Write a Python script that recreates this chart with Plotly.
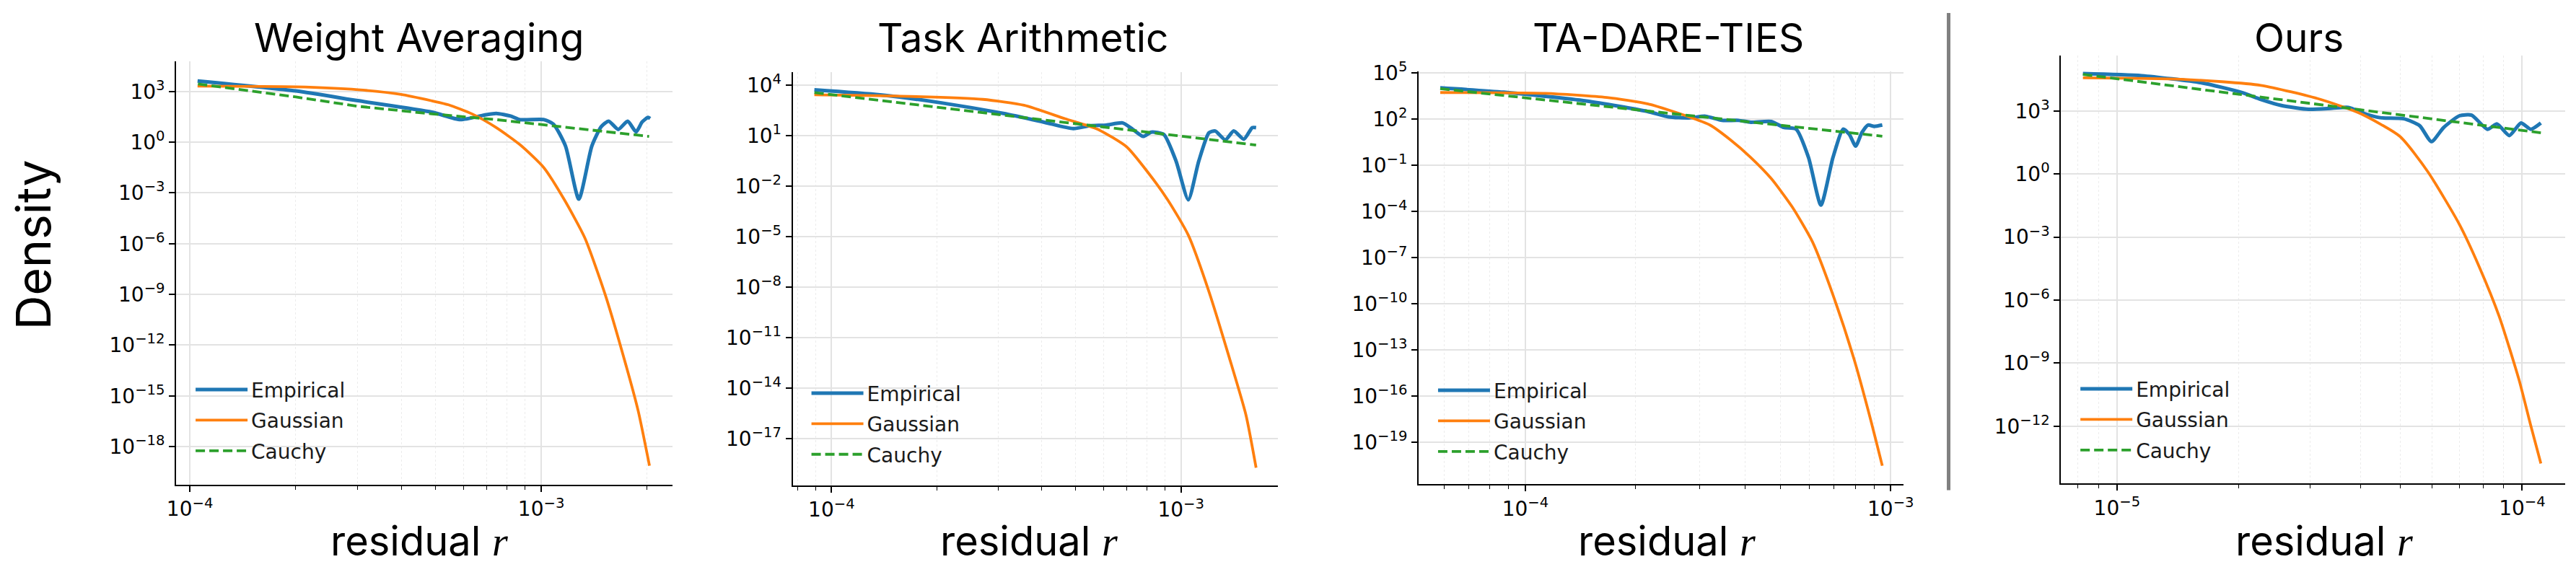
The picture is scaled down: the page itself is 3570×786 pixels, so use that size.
import numpy as np
import plotly.graph_objects as go

W, H = 3570, 786

# ---------------- data (log10 values) ----------------
titles = ["Weight Averaging", "Task Arithmetic", "TA-DARE-TIES", "Ours"]
series_names = ["Empirical", "Gaussian", "Cauchy"]

# Panel 1 : Weight Averaging
wa_emp_logr = [-3.978, -3.698, -3.522, -3.311, -3.230, -3.162, -3.128, -3.087, -3.060, -2.992, -2.965,
               -2.931, -2.893, -2.856, -2.829, -2.808, -2.781, -2.754, -2.730, -2.713, -2.696, -2.690]
wa_emp_logd = [3.62, 3.03, 2.45, 1.77, 1.33, 1.60, 1.70, 1.54, 1.33, 1.33, 1.06,
               -0.23, -3.37, -0.23, 0.92, 1.24, 0.75, 1.24, 0.61, 1.19, 1.46, 1.40]
wa_gau_logr = [-3.978, -3.698, -3.522, -3.399, -3.311, -3.264, -3.196, -3.128, -3.060, -2.993, -2.935,
               -2.876, -2.818, -2.759, -2.724, -2.692]
wa_gau_logd = [3.31, 3.27, 3.10, 2.82, 2.44, 2.21, 1.66, 0.86, -0.16, -1.50, -3.38,
               -5.66, -9.01, -13.18, -15.90, -19.13]
wa_cau_logr = [-3.977, -3.698, -3.522, -3.311, -3.128, -2.924, -2.693]
wa_cau_logd = [3.44, 2.67, 2.12, 1.67, 1.33, 0.88, 0.34]

# Panel 2 : Task Arithmetic
ta_emp_logr = [-4.049, -3.861, -3.685, -3.508, -3.391, -3.308, -3.261, -3.214, -3.167, -3.138, -3.108, -3.085,
               -3.049, -3.014, -2.979, -2.949, -2.920, -2.902, -2.873, -2.849, -2.820, -2.796, -2.785]
ta_emp_logd = [3.73, 3.43, 2.95, 2.32, 1.80, 1.42, 1.59, 1.63, 1.76, 1.38, 0.96, 1.21,
               1.07, -0.51, -2.81, -0.51, 1.17, 1.28, 0.75, 1.28, 0.79, 1.48, 1.48]
ta_gau_logr = [-4.049, -3.802, -3.567, -3.449, -3.332, -3.238, -3.155, -3.096, -3.038, -2.979, -2.920,
               -2.861, -2.814, -2.785]
ta_gau_logd = [3.43, 3.35, 3.16, 2.81, 2.01, 1.38, 0.33, -1.14, -2.81, -4.91, -8.26, -12.24, -15.60, -18.74]
ta_cau_logr = [-4.049, -3.449, -2.785]
ta_cau_logd = [3.56, 2.08, 0.44]

# Panel 3 : TA-DARE-TIES
td_emp_logr = [-4.233, -4.059, -3.833, -3.664, -3.608, -3.552, -3.507, -3.462, -3.417, -3.383, -3.327, -3.293,
               -3.259, -3.225, -3.191, -3.158, -3.130, -3.113, -3.096, -3.079, -3.062, -3.045, -3.023]
td_emp_logd = [4.02, 3.74, 3.17, 2.48, 2.14, 2.07, 2.18, 1.91, 1.91, 1.79, 1.84, 1.45,
               1.34, -0.50, -3.59, -0.50, 1.34, 0.99, 0.24, 1.11, 1.61, 1.52, 1.61]
td_gau_logr = [-4.233, -3.946, -3.777, -3.664, -3.552, -3.495, -3.439, -3.383, -3.327, -3.270, -3.214,
               -3.158, -3.101, -3.056, -3.023]
td_gau_logd = [3.72, 3.67, 3.40, 2.98, 2.14, 1.61, 0.65, -0.50, -1.87, -3.70, -5.99, -9.43, -13.55, -17.44, -20.53]
td_cau_logr = [-4.233, -3.023]
td_cau_logd = [3.97, 0.88]

# Panel 4 : Ours
ou_emp_logr = [-5.084, -4.939, -4.792, -4.694, -4.645, -4.596, -4.527, -4.469, -4.429, -4.390, -4.351, -4.292,
               -4.253, -4.224, -4.194, -4.155, -4.125, -4.086, -4.062, -4.032, -4.003, -3.979, -3.954]
ou_emp_logd = [4.78, 4.68, 4.34, 3.89, 3.55, 3.27, 3.08, 3.13, 3.17, 2.88, 2.68, 2.63,
               2.30, 1.54, 2.21, 2.77, 2.80, 2.13, 2.38, 1.83, 2.43, 2.13, 2.43]
ou_gau_logr = [-5.084, -4.841, -4.645, -4.498, -4.400, -4.302, -4.233, -4.155, -4.106, -4.057, -4.008,
               -3.979, -3.954]
ou_gau_logd = [4.58, 4.51, 4.22, 3.55, 2.88, 1.79, 0.11, -2.40, -4.42, -6.77, -9.79, -11.97, -13.78]
ou_cau_logr = [-5.084, -3.954]
ou_cau_logd = [4.74, 1.96]

# tick exponents
y_tick_exps = [[3, 0, -3, -6, -9, -12, -15, -18],
               [4, 1, -2, -5, -8, -11, -14, -17],
               [5, 2, -1, -4, -7, -10, -13, -16, -19],
               [3, 0, -3, -6, -9, -12]]
x_tick_exps = [[-4, -3], [-4, -3], [-4, -3], [-5, -4]]

panels = [
    (wa_emp_logr, wa_emp_logd, wa_gau_logr, wa_gau_logd, wa_cau_logr, wa_cau_logd),
    (ta_emp_logr, ta_emp_logd, ta_gau_logr, ta_gau_logd, ta_cau_logr, ta_cau_logd),
    (td_emp_logr, td_emp_logd, td_gau_logr, td_gau_logd, td_cau_logr, td_cau_logd),
    (ou_emp_logr, ou_emp_logd, ou_gau_logr, ou_gau_logd, ou_cau_logr, ou_cau_logd),
]

# ---------------- layout geometry (pixels) ----------------
plot_px = [  # x0, x1, y_top, y_bottom
    (233, 926, 69, 669),
    (1094, 1771, 84, 670),
    (1968, 2645.5, 82.5, 668.5),
    (2865, 3569, 60, 667.5),
]
x_ranges = [(-4.0387, -2.6265), (-4.1107, -2.7234), (-4.292, -2.964), (-5.138, -3.894)]
y_ranges = [(-20.24, 4.76), (-19.78, 4.775), (-21.73, 5.11), (-14.73, 5.65)]
title_cx = [572, 1415, 2317, 3197]
xlabel_cx = [572, 1424, 2315, 3232]
legend_px = [(255, 509), (1115, 514), (1990, 510), (2887, 508)]

C_BLUE, C_ORANGE, C_GREEN = "#1f77b4", "#ff7f0e", "#2ca02c"


def px_x(p):
    return p / W


def px_y(p):
    return 1 - p / H


def sup(e):
    s = str(e).replace("-", "\u2212")
    return f"10<sup>{s}</sup>"


fig = go.Figure()
layout = dict(
    width=W, height=H, margin=dict(l=0, r=0, t=0, b=0),
    paper_bgcolor="white", plot_bgcolor="white", showlegend=True,
    annotations=[], shapes=[],
)

for i, (er, ed, gr, gd, cr, cd) in enumerate(panels):
    k = "" if i == 0 else str(i + 1)
    xa, ya = "x" + k, "y" + k
    lg = "legend" + k
    specs = [
        (er, ed, "Empirical", dict(color=C_BLUE, width=5), "spline"),
        (gr, gd, "Gaussian", dict(color=C_ORANGE, width=3.8), "spline"),
        (cr, cd, "Cauchy", dict(color=C_GREEN, width=3.8, dash="13px,6px"), "linear"),
    ]
    for j, (r, d, name, line, shape) in enumerate(specs):
        fig.add_trace(go.Scatter(
            x=10 ** np.array(r), y=10 ** np.array(d), mode="lines", name=name,
            line=dict(shape=shape, smoothing=0.6, **line) if shape == "spline" else dict(shape=shape, **line),
            xaxis=xa, yaxis=ya, legend=lg, legendgroup=f"{i}-{j}", hoverinfo="skip",
        ))

    x0, x1, yt, yb = plot_px[i]
    xmaj = [10.0 ** e for e in x_tick_exps[i]]
    lo, hi = x_ranges[i]
    minor_vals = []
    for dec in range(int(np.floor(lo)), int(np.ceil(hi)) + 1):
        for m in range(2, 10):
            v = m * 10.0 ** dec
            if lo <= np.log10(v) <= hi:
                minor_vals.append(v)
    axis_common = dict(
        type="log", showline=True, linecolor="black", linewidth=2.2,
        ticks="outside", ticklen=8, tickwidth=1.6, tickcolor="black",
        showgrid=True, gridcolor="#e3e3e3", gridwidth=1.6, zeroline=False,
        tickfont=dict(family="DejaVu Sans", size=28, color="black"),
    )
    layout["xaxis" + k] = dict(
        axis_common, domain=[px_x(x0), px_x(x1)], anchor=ya, range=list(x_ranges[i]),
        tickvals=xmaj, ticktext=[sup(e) for e in x_tick_exps[i]],
        minor=dict(tickvals=minor_vals, ticks="outside", ticklen=5, tickwidth=1.2, tickcolor="black",
                   showgrid=True, gridcolor="#ececec", griddash="dot", gridwidth=1.2),
    )
    layout["yaxis" + k] = dict(
        axis_common, domain=[px_y(yb), px_y(yt)], anchor=xa, range=list(y_ranges[i]),
        tickvals=[10.0 ** e for e in y_tick_exps[i]], ticktext=[sup(e) for e in y_tick_exps[i]],
    )
    lx, ly = legend_px[i]
    layout[lg] = dict(
        x=px_x(lx), y=px_y(ly), xanchor="left", yanchor="top", bgcolor="rgba(0,0,0,0)",
        font=dict(family="DejaVu Sans", size=28, color="#1a1a1a"), itemwidth=72, tracegroupgap=3,
    )
    layout["annotations"].append(dict(
        text=titles[i], x=px_x(title_cx[i]), y=px_y(35), xref="paper", yref="paper",
        xanchor="center", yanchor="middle", showarrow=False,
        font=dict(family="Inter", size=55, color="black"),
    ))
    layout["annotations"].append(dict(
        text="residual <span style='font-family:Liberation Serif'><i>r</i></span>",
        x=px_x(xlabel_cx[i]), y=0, xref="paper", yref="paper",
        xanchor="center", yanchor="bottom", showarrow=False,
        font=dict(family="Inter", size=56, color="black"),
    ))

layout["annotations"].append(dict(
    text="Density", x=px_x(34), y=px_y(329), xref="paper", yref="paper", textangle=-90,
    xanchor="center", yanchor="middle", showarrow=False,
    font=dict(family="Inter", size=66, color="black"),
))
layout["shapes"].append(dict(
    type="line", xref="paper", yref="paper", x0=px_x(2708), x1=px_x(2708), y0=1, y1=px_y(677),
    line=dict(color="#808080", width=5),
))

fig.update_layout(**layout)
fig.write_html("out.html")
